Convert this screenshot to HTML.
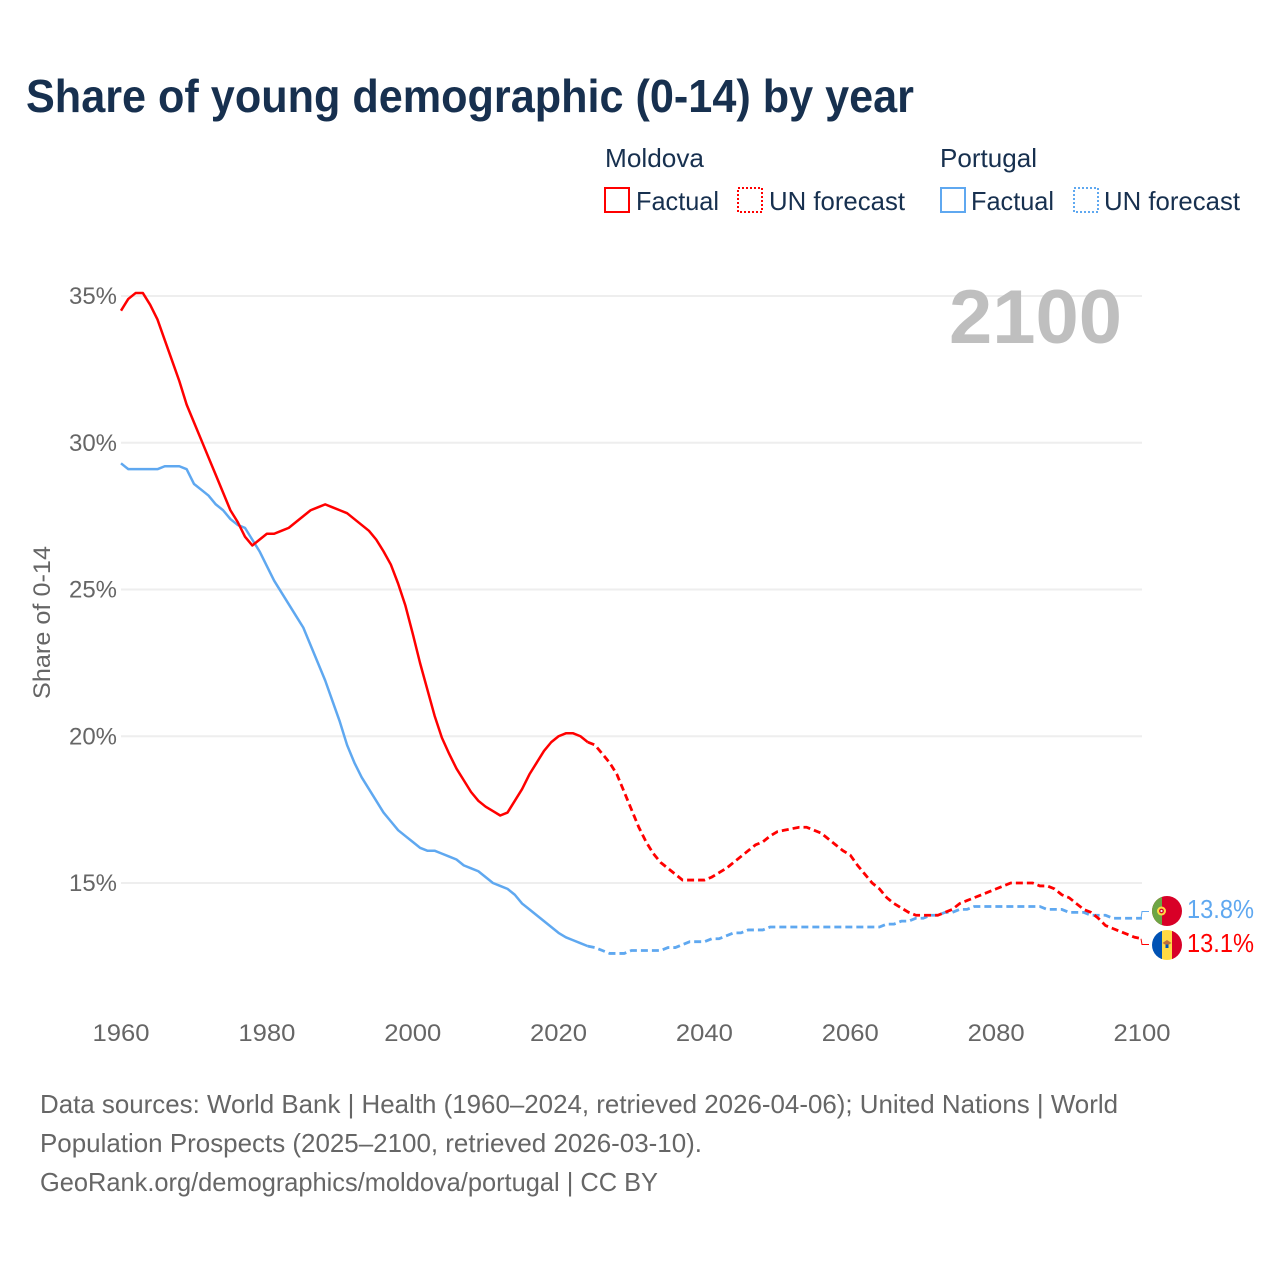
<!DOCTYPE html>
<html lang="en">
<head>
<meta charset="utf-8">
<title>Share of young demographic (0-14) by year</title>
<style>
html,body{margin:0;padding:0;background:#fff;width:1280px;height:1280px;overflow:hidden}
svg{display:block}
text{font-family:"Liberation Sans",sans-serif}
</style>
</head>
<body>
<svg id="chart" xmlns="http://www.w3.org/2000/svg" width="1280" height="1280" viewBox="0 0 1280 1280">
  <rect x="0" y="0" width="1280" height="1280" fill="#fff"/>
  <text x="26" y="112" font-size="46" font-weight="700" fill="#17304f" textLength="888" lengthAdjust="spacingAndGlyphs">Share of young demographic (0-14) by year</text>

  <g font-size="26" fill="#17304f">
    <text x="605" y="167" textLength="99" lengthAdjust="spacingAndGlyphs">Moldova</text>
    <text x="940" y="167" textLength="97" lengthAdjust="spacingAndGlyphs">Portugal</text>
    <rect x="605" y="188" width="24" height="24" fill="none" stroke="#ff0000" stroke-width="2"/>
    <text x="636" y="210" textLength="83" lengthAdjust="spacingAndGlyphs">Factual</text>
    <rect x="738" y="188" width="24" height="24" fill="none" stroke="#ff0000" stroke-width="2" stroke-dasharray="2 2"/>
    <text x="769" y="210" textLength="136" lengthAdjust="spacingAndGlyphs">UN forecast</text>
    <rect x="941" y="188" width="24" height="24" fill="none" stroke="#5fa8f0" stroke-width="2"/>
    <text x="971" y="210" textLength="83" lengthAdjust="spacingAndGlyphs">Factual</text>
    <rect x="1074" y="188" width="24" height="24" fill="none" stroke="#5fa8f0" stroke-width="2" stroke-dasharray="2 2"/>
    <text x="1104" y="210" textLength="136" lengthAdjust="spacingAndGlyphs">UN forecast</text>
  </g>

  <g id="grid"></g>
  <g id="y-ticks"></g>
  <g id="x-ticks"></g>
  <text transform="translate(50 622.5) rotate(-90)" text-anchor="middle" font-size="24" fill="#666" textLength="153" lengthAdjust="spacingAndGlyphs">Share of 0-14</text>
  <text x="949" y="343" font-size="76" font-weight="700" fill="#bfbfbf" textLength="173" lengthAdjust="spacingAndGlyphs">2100</text>

  <g id="series"></g>

  <defs>
    <clipPath id="clip-pt"><circle cx="1167" cy="911" r="15"/></clipPath>
    <clipPath id="clip-md"><circle cx="1167" cy="945" r="15"/></clipPath>
  </defs>
  <g clip-path="url(#clip-pt)">
    <rect x="1152" y="896" width="30" height="30" fill="#d80027"/>
    <rect x="1152" y="896" width="10" height="30" fill="#6da544"/>
    <circle cx="1161.5" cy="911" r="4.5" fill="#ffda44"/>
    <circle cx="1161.5" cy="911" r="2.4" fill="#d80027"/>
    <circle cx="1161.5" cy="911" r="1.1" fill="#eee"/>
  </g>
  <g clip-path="url(#clip-md)">
    <rect x="1152" y="930" width="10" height="30" fill="#0052b4"/>
    <rect x="1162" y="930" width="10" height="30" fill="#ffda44"/>
    <rect x="1172" y="930" width="10" height="30" fill="#d80027"/>
    <path d="M1162.5 943l4.5-3 4.5 3-2.5 1.5h-4z" fill="#c0703a"/>
    <rect x="1165.5" y="944.5" width="3" height="3.5" fill="#0052b4"/>
  </g>
  <g id="end-labels"></g>

  <g font-size="26" fill="#666">
    <text x="40" y="1113" textLength="1078" lengthAdjust="spacingAndGlyphs">Data sources: World Bank | Health (1960–2024, retrieved 2026-04-06); United Nations | World</text>
    <text x="40" y="1152" textLength="662" lengthAdjust="spacingAndGlyphs">Population Prospects (2025–2100, retrieved 2026-03-10).</text>
    <text x="40" y="1191" textLength="618" lengthAdjust="spacingAndGlyphs">GeoRank.org/demographics/moldova/portugal | CC BY</text>
  </g>
</svg>
<script>
// Chart data (values in % of population aged 0-14)
const factualStartYear = 1960;
const forecastStartYear = 2024;
const yTickValues = [15, 20, 25, 30, 35];
const yTickLabels = ["15%", "20%", "25%", "30%", "35%"];
const xTickValues = [1960, 1980, 2000, 2020, 2040, 2060, 2080, 2100];
const xTickLabels = ["1960", "1980", "2000", "2020", "2040", "2060", "2080", "2100"];
const moldovaFactual = [34.5,34.9,35.1,35.1,34.7,34.2,33.5,32.8,32.1,31.3,30.7,30.1,29.5,28.9,28.3,27.7,27.3,26.8,26.5,26.7,26.9,26.9,27.0,27.1,27.3,27.5,27.7,27.8,27.9,27.8,27.7,27.6,27.4,27.2,27.0,26.7,26.3,25.85,25.2,24.45,23.5,22.5,21.6,20.7,19.95,19.4,18.9,18.5,18.1,17.8,17.6,17.45,17.3,17.4,17.8,18.2,18.7,19.1,19.5,19.8,20.0,20.1,20.1,20.0,19.8];
const moldovaForecast = [19.8,19.7,19.4,19.1,18.7,18.1,17.5,16.9,16.4,16.0,15.7,15.5,15.3,15.1,15.1,15.1,15.1,15.2,15.35,15.5,15.7,15.9,16.1,16.3,16.4,16.6,16.75,16.8,16.85,16.9,16.9,16.8,16.7,16.5,16.3,16.1,15.95,15.6,15.3,15.0,14.8,14.5,14.3,14.15,14.0,13.9,13.9,13.9,13.9,14.0,14.1,14.3,14.4,14.5,14.6,14.7,14.8,14.9,15.0,15.0,15.0,15.0,14.9,14.9,14.8,14.6,14.5,14.3,14.1,14.0,13.8,13.55,13.45,13.35,13.25,13.15,13.1];
const portugalFactual = [29.3,29.1,29.1,29.1,29.1,29.1,29.2,29.2,29.2,29.1,28.6,28.4,28.2,27.9,27.7,27.4,27.2,27.1,26.7,26.3,25.8,25.3,24.9,24.5,24.1,23.7,23.1,22.5,21.9,21.2,20.5,19.7,19.1,18.6,18.2,17.8,17.4,17.1,16.8,16.6,16.4,16.2,16.1,16.1,16.0,15.9,15.8,15.6,15.5,15.4,15.2,15.0,14.9,14.8,14.6,14.3,14.1,13.9,13.7,13.5,13.3,13.15,13.05,12.95,12.85];
const portugalForecast = [12.85,12.8,12.7,12.6,12.6,12.6,12.7,12.7,12.7,12.7,12.7,12.8,12.8,12.9,13.0,13.0,13.0,13.1,13.1,13.2,13.3,13.3,13.4,13.4,13.4,13.5,13.5,13.5,13.5,13.5,13.5,13.5,13.5,13.5,13.5,13.5,13.5,13.5,13.5,13.5,13.5,13.6,13.6,13.7,13.7,13.8,13.8,13.9,13.9,14.0,14.0,14.1,14.1,14.2,14.2,14.2,14.2,14.2,14.2,14.2,14.2,14.2,14.2,14.1,14.1,14.1,14.0,14.0,14.0,13.9,13.9,13.9,13.8,13.8,13.8,13.8,13.8];
const endLabels = ["13.8%", "13.1%"];

const SVG_NS = "http://www.w3.org/2000/svg";
const RED = "#ff0000";
const BLUE = "#5fa8f0";

function xScale(year) { return 121 + (year - 1960) * (1142 - 121) / 140; }
function yScale(value) { return 883 - (value - 15) * (883 - 296) / 20; }

function linePath(values, startYear) {
  return values.map(function (v, i) {
    return (i ? "L" : "M") + xScale(startYear + i).toFixed(2) + " " + yScale(v).toFixed(2);
  }).join("");
}

function make(tag, parent, attrs, text) {
  const el = document.createElementNS(SVG_NS, tag);
  Object.keys(attrs).forEach(function (k) { el.setAttribute(k, attrs[k]); });
  if (text !== undefined) el.textContent = text;
  parent.appendChild(el);
  return el;
}

const gridGroup = document.getElementById("grid");
const yGroup = document.getElementById("y-ticks");
const xGroup = document.getElementById("x-ticks");
const seriesGroup = document.getElementById("series");
const endGroup = document.getElementById("end-labels");

yTickValues.forEach(function (v, i) {
  const line = make("line", gridGroup, { x1: 121, x2: 1142, y1: yScale(v), y2: yScale(v), stroke: "#eeeeee", "stroke-width": 2 });
  
  
  const label = make("text", yGroup, { x: 117, y: yScale(v) + 8, "text-anchor": "end", "font-size": 24, fill: "#666", textLength: 48, lengthAdjust: "spacingAndGlyphs" }, yTickLabels[i]);
  
  
});

xTickValues.forEach(function (v, i) {
  const label = make("text", xGroup, { x: xScale(v), y: 1041, "text-anchor": "middle", "font-size": 24, fill: "#666", textLength: 57, lengthAdjust: "spacingAndGlyphs" }, xTickLabels[i]);
  
  
});

const portugalForecastLine = make("path", seriesGroup, { d: linePath(portugalForecast, forecastStartYear), fill: "none", stroke: BLUE, "stroke-width": 2.8, "stroke-dasharray": "7 4" });



const portugalFactualLine = make("path", seriesGroup, { d: linePath(portugalFactual, factualStartYear), fill: "none", stroke: BLUE, "stroke-width": 2.5, "stroke-linejoin": "round" });



const moldovaForecastLine = make("path", seriesGroup, { d: linePath(moldovaForecast, forecastStartYear), fill: "none", stroke: RED, "stroke-width": 2.8, "stroke-dasharray": "7 4" });



const moldovaFactualLine = make("path", seriesGroup, { d: linePath(moldovaFactual, factualStartYear), fill: "none", stroke: RED, "stroke-width": 2.5, "stroke-linejoin": "round" });



const portugalEndY = yScale(portugalForecast[portugalForecast.length - 1]);
const moldovaEndY = yScale(moldovaForecast[moldovaForecast.length - 1]);

const portugalConnector = make("path", endGroup, { d: "M1141 " + portugalEndY + "L1142 911.5H1149", fill: "none", stroke: BLUE, "stroke-width": 1 });



const moldovaConnector = make("path", endGroup, { d: "M1141 " + moldovaEndY + "L1142 944.5H1149", fill: "none", stroke: RED, "stroke-width": 1 });



const portugalLabel = make("text", endGroup, { x: 1187, y: 918, "font-size": 26, fill: BLUE, textLength: 67, lengthAdjust: "spacingAndGlyphs" }, endLabels[0]);



const moldovaLabel = make("text", endGroup, { x: 1187, y: 952, "font-size": 26, fill: RED, textLength: 67, lengthAdjust: "spacingAndGlyphs" }, endLabels[1]);


</script>
</body>
</html>
